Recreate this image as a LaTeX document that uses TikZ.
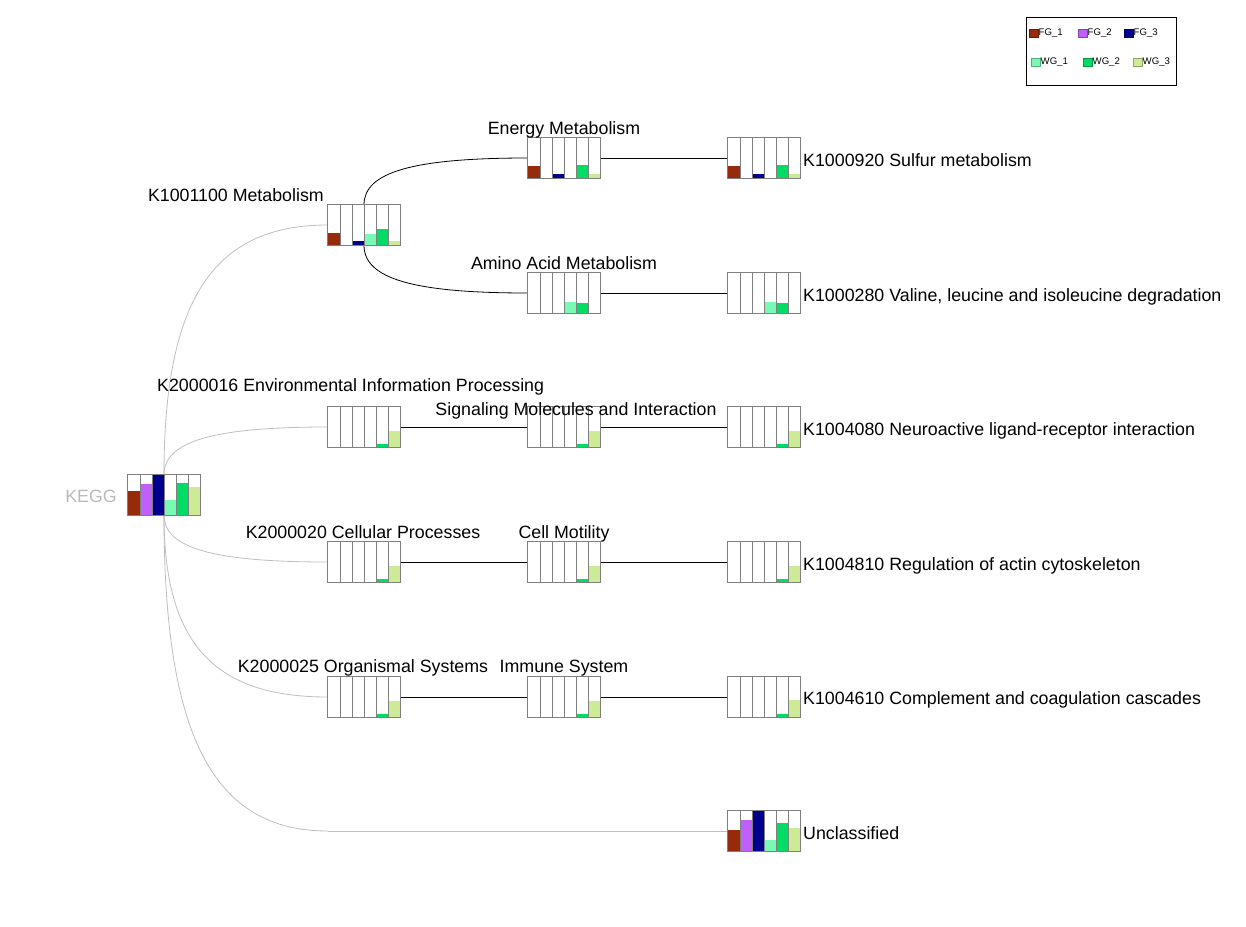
\documentclass[tikz,border=0pt]{standalone}
\usepackage{fontspec}
\setmainfont{Liberation Sans}
\usetikzlibrary{calc}
\definecolor{bc0}{RGB}{150,42,10}
\definecolor{bc1}{RGB}{192,96,250}
\definecolor{bc2}{RGB}{0,0,140}
\definecolor{bc3}{RGB}{120,250,180}
\definecolor{bc4}{RGB}{0,220,100}
\definecolor{bc5}{RGB}{205,235,150}
\definecolor{cellgrey}{RGB}{128,128,128}
\definecolor{edgegrey}{RGB}{190,190,190}
\definecolor{keggtext}{RGB}{185,185,185}
\tikzset{
  chartbox/.style={rectangle, minimum width=72pt, minimum height=40pt, inner sep=0pt, fill=white},
  cellline/.style={draw=cellgrey, line width=0.9pt},
  greyedge/.style={draw=edgegrey, line width=0.8pt},
  blackedge/.style={draw=black, line width=0.8pt},
  lbl/.style={inner sep=0pt, font=\fontsize{17.8}{20}\selectfont},
  leg/.style={inner sep=0pt, font=\fontsize{9.6}{11}\selectfont, anchor=west},
}
\newcommand\chart[4]{%
  \node[chartbox] (#1) at (#2,#3) {};
  \foreach \h [count=\i from 0] in {#4} {
    \fill[bc\i] ({#2-36+12*\i},{#3+20}) rectangle ++(12,-\h);
  }
  \foreach \i in {1,...,5} \draw[cellline] ({#2-36+12*\i},{#3-20}) -- ++(0,40);
  \draw[cellline] (#1.south west) rectangle (#1.north east);
}
\newcommand\elbow[3]{\draw[#1] (#2) .. controls ($(#2)!0.7!(#2|-#3)$) and ($(#3)!0.7!(#2|-#3)$) .. (#3);}
\begin{document}
\begin{tikzpicture}[x=1pt,y=-1pt]
\useasboundingbox (0,0) rectangle (1246,926);
% node placeholders for edge anchors (drawn later)
\node[chartbox] (kegg) at (164,495) {};
\node[chartbox] (met) at (364,225) {};
\node[chartbox] (energy) at (564,158) {};
\node[chartbox] (sulfur) at (764,158) {};
\node[chartbox] (amino) at (564,293) {};
\node[chartbox] (valine) at (764,293) {};
\node[chartbox] (env) at (364,427) {};
\node[chartbox] (signal) at (564,427) {};
\node[chartbox] (neuro) at (764,427) {};
\node[chartbox] (cell) at (364,562) {};
\node[chartbox] (motil) at (564,562) {};
\node[chartbox] (regul) at (764,562) {};
\node[chartbox] (organ) at (364,697) {};
\node[chartbox] (immune) at (564,697) {};
\node[chartbox] (compl) at (764,697) {};
\node[chartbox] (uncl) at (764,831) {};
\coordinate (ubend) at (328,831);
% edges
\elbow{greyedge}{kegg.north}{met.west}
\elbow{greyedge}{kegg.north}{env.west}
\elbow{greyedge}{kegg.south}{cell.west}
\elbow{greyedge}{kegg.south}{organ.west}
\elbow{greyedge}{kegg.south}{ubend}
\draw[greyedge] (ubend) -- (uncl.west);
\elbow{blackedge}{met.north}{energy.west}
\elbow{blackedge}{met.south}{amino.west}
\draw[blackedge] (energy.east) -- (sulfur.west);
\draw[blackedge] (amino.east) -- (valine.west);
\draw[blackedge] (env.east) -- (signal.west);
\draw[blackedge] (signal.east) -- (neuro.west);
\draw[blackedge] (cell.east) -- (motil.west);
\draw[blackedge] (motil.east) -- (regul.west);
\draw[blackedge] (organ.east) -- (immune.west);
\draw[blackedge] (immune.east) -- (compl.west);
% charts
\chart{kegg}{164}{495}{24,31,40,15,32,28}
\chart{met}{364}{225}{12,0,4,11,16,4}
\chart{energy}{564}{158}{12,0,4,0,13,4}
\chart{sulfur}{764}{158}{12,0,4,0,13,4}
\chart{amino}{564}{293}{0,0,0,11,10,0}
\chart{valine}{764}{293}{0,0,0,11,10,0}
\chart{env}{364}{427}{0,0,0,0,3,16}
\chart{signal}{564}{427}{0,0,0,0,3,16}
\chart{neuro}{764}{427}{0,0,0,0,3,16}
\chart{cell}{364}{562}{0,0,0,0,3,16}
\chart{motil}{564}{562}{0,0,0,0,3,16}
\chart{regul}{764}{562}{0,0,0,0,3,16}
\chart{organ}{364}{697}{0,0,0,0,3,16}
\chart{immune}{564}{697}{0,0,0,0,3,16}
\chart{compl}{764}{697}{0,0,0,0,3,17}
\chart{uncl}{764}{831}{21,31,40,11,28,23}
% labels
\node[lbl, anchor=base east, text=keggtext] (lkegg) at (117,502.5) {KEGG};
\node[lbl, anchor=base east] (lmet) at (324,201.5) {K1001100 Metabolism};
\node[lbl, anchor=base] (lenergy) at (564,134.5) {Energy Metabolism};
\node[lbl, anchor=base west] (lsulfur) at (803,166.5) {K1000920 Sulfur metabolism};
\node[lbl, anchor=base] (lamino) at (564,269.5) {Amino Acid Metabolism};
\node[lbl, anchor=base west] (lvaline) at (803,301.5) {K1000280 Valine, leucine and isoleucine degradation};
\node[lbl, anchor=base west] (lenv) at (157,391.5) {K2000016 Environmental Information Processing};
\node[lbl, anchor=base] (lsignal) at (576,415.5) {Signaling Molecules and Interaction};
\node[lbl, anchor=base west] (lneuro) at (803,435.5) {K1004080 Neuroactive ligand-receptor interaction};
\node[lbl, anchor=base] (lcell) at (363,538.5) {K2000020 Cellular Processes};
\node[lbl, anchor=base] (lmotil) at (564,538.5) {Cell Motility};
\node[lbl, anchor=base west] (lregul) at (803,570.5) {K1004810 Regulation of actin cytoskeleton};
\node[lbl, anchor=base] (lorgan) at (363,672.5) {K2000025 Organismal Systems};
\node[lbl, anchor=base] (limmune) at (564,672.5) {Immune System};
\node[lbl, anchor=base west] (lcompl) at (803,704.5) {K1004610 Complement and coagulation cascades};
\node[lbl, anchor=base west] (luncl) at (803,839.5) {Unclassified};
% legend
\draw[line width=0.9pt] (1026,17) rectangle (1176,85);
\foreach \x/\c/\t [count=\k] in {1029/bc0/FG\_1, 1078/bc1/FG\_2, 1124/bc2/FG\_3} {
  \draw[fill=\c, draw=\c!70!black, line width=0.6pt] (\x,29) rectangle ++(9,8);
  \node[leg] (legfg\k) at (\x+9.5,33) {\t};
}
\foreach \x/\c/\t [count=\k] in {1031/bc3/WG\_1, 1083/bc4/WG\_2, 1133/bc5/WG\_3} {
  \draw[fill=\c, draw=\c!70!black, line width=0.6pt] (\x,58) rectangle ++(9,8);
  \node[leg] (legwg\k) at (\x+9.5,62) {\t};
}
\end{tikzpicture}
\end{document}
